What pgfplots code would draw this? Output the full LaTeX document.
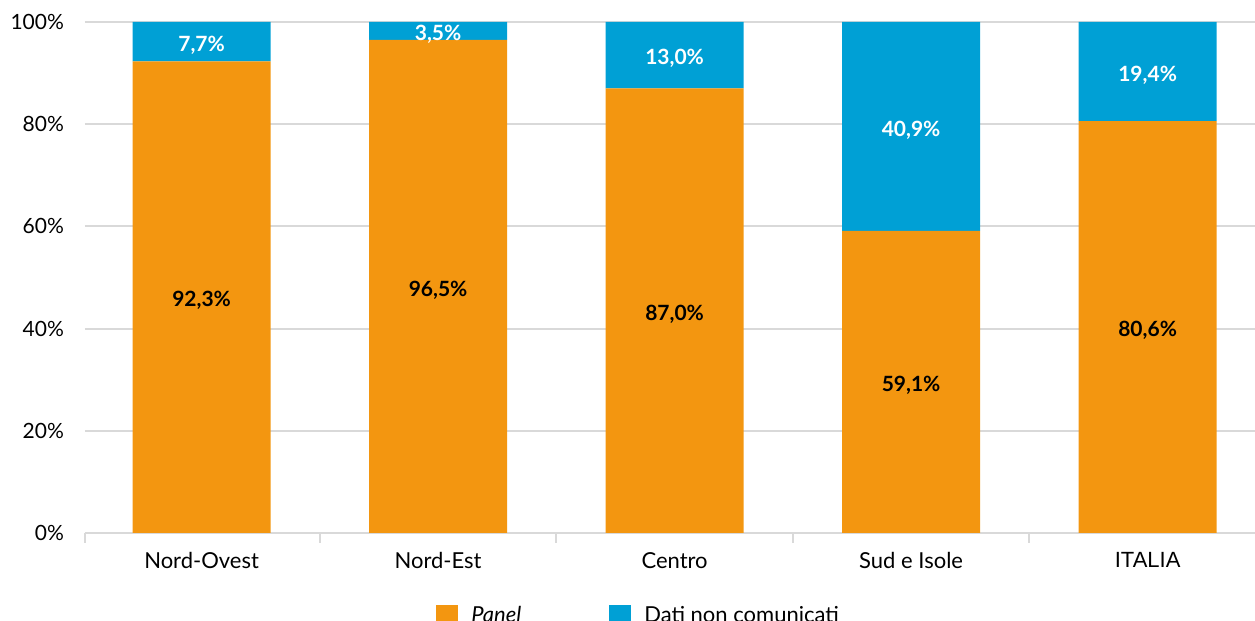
\documentclass[border=0pt]{standalone}
\usepackage{fontspec}
\setmainfont{Lato}
\newfontfamily\arialf{Liberation Sans}
\usepackage{pgfplots}
\pgfplotsset{compat=1.18}
\definecolor{orangeP}{HTML}{F39610}
\definecolor{blueD}{HTML}{00A0D5}
\definecolor{gridg}{HTML}{D9D9D9}
\pgfplotsset{
  labelaxis/.style={at={(ax.south west)}, anchor=south west, scale only axis,
    width=585pt, height=255.5pt, xmin=-0.493, xmax=4.454, ymin=0, ymax=100,
    hide axis, clip=false},
  seglabel/.style={draw=none, mark=none, nodes near coords, point meta=explicit symbolic,
    every node near coord/.append style={anchor=center, text=#1, yshift=-1.75pt,
      font=\fontsize{10.5}{12}\selectfont\bfseries}},
}
\begin{document}
\begin{tikzpicture}
\begin{axis}[
  name=ax,
  scale only axis,
  width=585pt, height=255.5pt,
  ybar stacked,
  bar width=69pt,
  xmin=-0.493, xmax=4.454,
  ymin=0, ymax=100,
  axis lines*=left,
  x axis line style={draw=gridg, line width=1pt},
  y axis line style={draw=none},
  ymajorgrids, grid style={gridg, line width=1pt},
  ytick={0,20,...,100},
  yticklabel={\pgfmathprintnumber{\tick}\%},
  ytick style={draw=none},
  xtick={0,...,4},
  xticklabels={Nord-Ovest,Nord-Est,Centro,Sud e Isole,{\arialf ITALIA}},
  major x tick style={draw=none},
  minor xtick={-0.493,0.5,1.5,2.5,3.5},
  minor x tick style={draw=gridg, line width=1pt},
  minor tick length=5pt,
  major tick length=0pt,
  tick align=outside,
  /pgf/number format/assume math mode=true,
  yticklabel style={font=\fontsize{10.5}{12}\selectfont, text=black, xshift=-7pt},
  xticklabel style={font=\fontsize{11}{12}\selectfont, text=black, yshift=-6pt},
  legend image code/.code={\path[#1] (0pt,-5.5pt) rectangle (11pt,5.5pt);},
  legend style={at={(0.3,-0.135)}, anchor=north west, draw=none, fill=none,
    legend columns=2, inner sep=0pt, font=\fontsize{11}{12}\selectfont,
    nodes={inner xsep=6.5pt},
    /tikz/every even column/.append style={column sep=37.5pt}},
  legend cell align=left,
]
\addplot[fill=orangeP, draw=none]
  coordinates {(0,92.3) (1,96.5) (2,87.0) (3,59.1) (4,80.6)};
\addlegendentry{\textit{Panel}}
\addplot[fill=blueD, draw=none]
  coordinates {(0,7.7) (1,3.5) (2,13.0) (3,40.9) (4,19.4)};
\addlegendentry{Dati non comunicati}
\end{axis}
\begin{axis}[labelaxis]
\addplot[seglabel=black] coordinates {
  (0,46.15) [92,3\%] (1,48.25) [96,5\%] (2,43.5) [87,0\%] (3,29.55) [59,1\%] (4,40.3) [80,6\%]};
\addplot[seglabel=white] coordinates {
  (0,96.15) [7,7\%] (1,98.25) [3,5\%] (2,93.5) [13,0\%] (3,79.55) [40,9\%] (4,90.3) [19,4\%]};
\end{axis}
\pgfresetboundingbox
\path (ax.south west) +(-42.5pt,-44pt) rectangle +(585pt,266.5pt);
\end{tikzpicture}
\end{document}
